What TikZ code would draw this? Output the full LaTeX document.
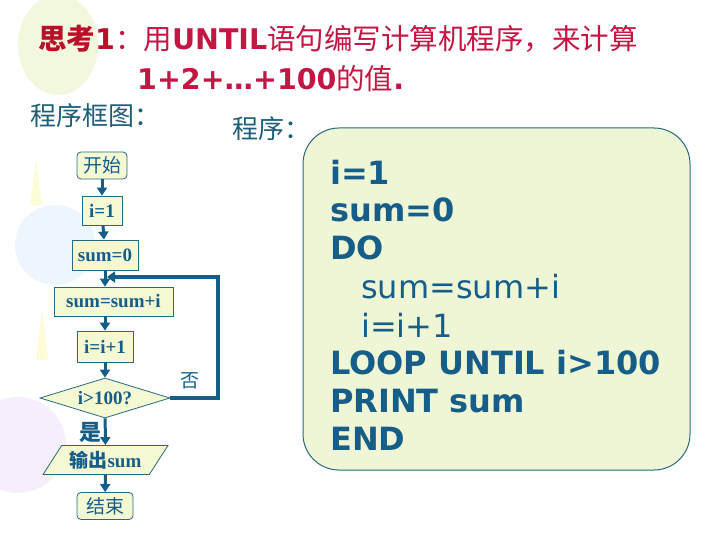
\documentclass[tikz,border=0pt]{standalone}
\usepackage{fontspec}
\setmainfont{Liberation Serif}
\newfontfamily\cjk{Noto Sans CJK SC}
\newfontfamily\vsans{DejaVu Sans}
\usetikzlibrary{arrows.meta,shapes.geometric}
\definecolor{titlered}{RGB}{196,22,66}
\definecolor{thinkred}{RGB}{185,15,40}
\definecolor{codeblue}{RGB}{22,94,135}
\definecolor{labelteal}{RGB}{30,95,120}
\definecolor{nodefill}{RGB}{244,249,212}
\definecolor{boxfill}{RGB}{238,246,214}
\definecolor{edgeteal}{RGB}{40,105,125}
\definecolor{bggreen}{RGB}{242,248,222}
\definecolor{bgblue}{RGB}{238,246,253}
\definecolor{bgviolet}{RGB}{246,238,252}
\definecolor{bgyellow}{RGB}{252,252,215}
\tikzset{
  fbox/.style={draw=edgeteal, line width=0.8pt, fill=nodefill, inner sep=0pt, text=codeblue,
    font=\fontsize{19}{21}\selectfont\bfseries},
  term/.style={fbox, rounded corners=4pt},
  arr/.style={draw=codeblue, line width=3pt, -{Triangle[length=8pt,width=10pt]}},
  loopline/.style={draw=codeblue, line width=4pt, -{Triangle[length=8pt,width=11pt]}},
  codeline/.style={anchor=west, inner sep=0pt, text=codeblue, font=\vsans\fontsize{32}{36}\selectfont\bfseries},
  codelinel/.style={anchor=west, inner sep=0pt, text=codeblue, font=\vsans\fontsize{32}{36}\selectfont},
  cjklabel/.style={inner sep=0pt, text=codeblue, font=\cjk\fontsize{19}{22}\selectfont}
}
\begin{document}
\begin{tikzpicture}[x=1pt,y=-1pt]
\useasboundingbox (0,0) rectangle (720,540);
\fill[white] (0,0) rectangle (720,540);
% faint background decorations
\fill[bggreen] (58,45) ellipse (40 and 50);
\fill[bgblue] (55,245) circle (40);
\fill[bgviolet] (18,445) circle (48);
\fill[bgyellow] (30,205) -- (36,160) -- (42,205) -- cycle;
\fill[bgyellow] (36,360) -- (42,310) -- (48,360) -- cycle;

% title
\node[anchor=west, inner sep=0pt, text=titlered] (t1) at (38,39)
  {{\cjk\fontsize{28.5}{30}\selectfont\bfseries\color{thinkred}思考}{\vsans\fontsize{28.5}{30}\selectfont\bfseries\color{thinkred}1}{\cjk\fontsize{28.5}{30}\selectfont ：用}{\vsans\fontsize{28.5}{30}\selectfont\bfseries UNTIL}{\cjk\fontsize{28.5}{30}\selectfont 语句编写计算机程序，来计算}};
\node[anchor=west, inner sep=0pt, text=titlered] (t2) at (137,79)
  {{\vsans\fontsize{28.5}{30}\selectfont\bfseries 1+2+…+100}{\cjk\fontsize{28.5}{30}\selectfont 的值}{\vsans\fontsize{28.5}{30}\selectfont\bfseries .}};
\node[anchor=west, inner sep=0pt, text=labelteal, font=\cjk\fontsize{26}{30}\selectfont] (l1) at (30,116) {程序框图：};
\node[anchor=west, inner sep=0pt, text=labelteal, font=\cjk\fontsize{26}{30}\selectfont] (l2) at (232,129) {程序：};

% code box
\draw[draw=edgeteal, line width=1pt, fill=boxfill, rounded corners=36pt] (303,128) rectangle (690,470);
\node[codeline] (c1) at (330,172) {i=1};
\node[codeline] (c2) at (330,210) {sum=0};
\node[codeline] (c3) at (330,248) {DO};
\node[codelinel] (c4) at (361,287) {sum=sum+i};
\node[codelinel] (c5) at (361,325) {i=i+1};
\node[codeline] (c6) at (330,363) {LOOP UNTIL i>100};
\node[codeline] (c7) at (330,401) {PRINT sum};
\node[codeline] (c8) at (330,439) {END};

% flowchart
\node[term, minimum width=50pt, minimum height=27pt, font=\cjk\fontsize{19}{22}\selectfont] (start) at (102,165.5) {开始};
\node[fbox, minimum width=40pt, minimum height=29pt] (i1) at (102,210.5) {i=1};
\node[fbox, minimum width=66pt, minimum height=30pt] (s0) at (105,255) {sum=0};
\node[fbox, minimum width=119pt, minimum height=29pt] (ssi) at (113.5,301.5) {sum=sum+i};
\node[fbox, minimum width=56pt, minimum height=31pt] (ii) at (105,346.5) {i=i+1};
\node[fbox, diamond, aspect=3.3, minimum width=130pt, minimum height=40pt] (dia) at (105,398) {i>100?};
\node[fbox, trapezium, trapezium left angle=50, trapezium right angle=130, trapezium stretches=true,
  minimum width=125pt, minimum height=29pt] (out) at (105.5,460) {{\cjk 输出}sum};
\node[term, minimum width=56pt, minimum height=27pt, font=\cjk\fontsize{19}{22}\selectfont] (end) at (105,506) {结束};
\node[cjklabel, font=\cjk\fontsize{22}{24}\selectfont\bfseries] (yes) at (90,432) {是};
\node[cjklabel] (no) at (190,381) {否};

\coordinate (jn) at (107,277);
\coordinate (lc) at (218,277);

\draw[arr] (start) -- (i1);
\draw[arr] (i1) -- (s0);
\draw[arr] (s0.south -| 105,0) -- (ssi.north -| 105,0);
\draw[arr] (ii) -- (dia);
\draw[arr] (dia) -- (out);
\draw[arr] (out) -- (end);
\draw[arr] (ssi.south -| 105,0) -- (ii);
\draw[loopline] (dia.east) -| (lc) -- (jn);
\end{tikzpicture}
\end{document}
